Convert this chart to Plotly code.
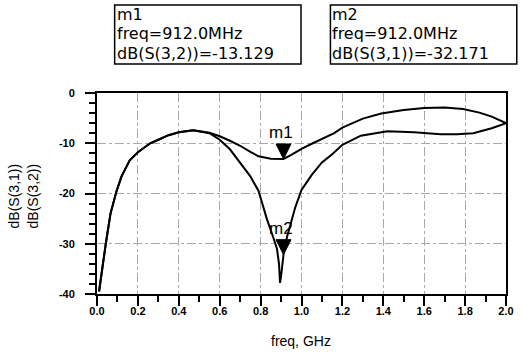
import plotly.graph_objects as go

# ---- data ----
freq_s32 = [0.01, 0.018, 0.03, 0.043, 0.066, 0.095, 0.12, 0.16, 0.2, 0.26, 0.3, 0.35, 0.4, 0.47,
            0.55, 0.6, 0.65, 0.7, 0.75, 0.79, 0.85, 0.912, 0.95, 1.0, 1.05, 1.1, 1.16, 1.2,
            1.3, 1.39, 1.5, 1.6, 1.7, 1.79, 1.87, 1.93, 2.0]
db_s32 = [-39.5, -37, -33, -30, -24, -19.6, -16.6, -13.4, -11.8, -10, -9.3, -8.4, -7.8, -7.4,
          -7.9, -8.6, -9.5, -10.5, -11.7, -12.6, -13.1, -13.129, -12.3, -11.1, -10.1, -9.1, -8.0, -6.9,
          -5.1, -4.1, -3.4, -3.0, -2.9, -3.2, -3.9, -4.7, -6.0]

freq_s31 = [0.01, 0.018, 0.03, 0.043, 0.066, 0.095, 0.12, 0.16, 0.2, 0.26, 0.3, 0.35, 0.4, 0.47,
            0.55, 0.6, 0.65, 0.7, 0.75, 0.79, 0.83, 0.86, 0.88, 0.89, 0.895, 0.9, 0.912, 0.93,
            0.95, 0.97, 1.0, 1.05, 1.1, 1.15, 1.2, 1.29, 1.42, 1.55, 1.68, 1.76, 1.84, 1.93, 2.0]
db_s31 = [-39.5, -37, -33, -30, -24, -19.6, -16.6, -13.4, -11.8, -10, -9.3, -8.4, -7.8, -7.4,
          -8.0, -9.3, -11.2, -13.8, -16.6, -19.5, -25, -28.5, -31, -34, -37.8, -36.5, -32.171, -28.5,
          -25.5, -22.7, -19.3, -16.3, -13.8, -12.2, -10.3, -8.5, -7.6, -7.8, -8.2, -8.2, -8.0, -7.0, -6.0]

marker_names = ["m1", "m2"]
marker_freq = [0.912, 0.912]          # GHz
marker_vals = [-13.129, -32.171]     # dB
marker_exprs = ["dB(S(3,2))", "dB(S(3,1))"]

x_ticks = [0.0, 0.2, 0.4, 0.6, 0.8, 1.0, 1.2, 1.4, 1.6, 1.8, 2.0]
y_ticks = [0, -10, -20, -30, -40]

# ---- layout geometry (pixels) ----
W, H = 525, 352
L, R, T, B = 97, 514, 93, 294


def px(p):
    return (p - L) / (R - L)


def py(p):
    return (B - p) / (B - T)


fig = go.Figure()
fig.add_trace(go.Scatter(x=freq_s31, y=db_s31, mode="lines",
                         line=dict(color="black", width=2), name="dB(S(3,1))"))
fig.add_trace(go.Scatter(x=freq_s32, y=db_s32, mode="lines",
                         line=dict(color="black", width=2), name="dB(S(3,2))"))

shapes = []
annotations = []
box_lefts = [115, 335]
box_rights = [305, 525]
for i, name in enumerate(marker_names):
    # triangle marker, tip on the curve
    shapes.append(dict(type="path", xref="x", yref="y", xsizemode="pixel", ysizemode="pixel",
                       xanchor=marker_freq[i], yanchor=marker_vals[i],
                       path="M -7.5 15 L 7.5 15 L 0 0 Z",
                       fillcolor="black", line=dict(color="black", width=1)))
    annotations.append(dict(x=marker_freq[i], y=marker_vals[i], xref="x", yref="y",
                            text=name, showarrow=False, yanchor="bottom", yshift=15, xshift=-3,
                            font=dict(family="Liberation Sans", size=17, color="black")))
    # readout box
    shapes.append(dict(type="rect", xref="paper", yref="paper",
                       x0=px(box_lefts[i]), x1=px(box_rights[i]), y0=py(64), y1=py(5),
                       line=dict(color="black", width=1.5), fillcolor="white", layer="above"))
    lines = [name,
             f"freq={marker_freq[i] * 1000:.1f}MHz",
             f"{marker_exprs[i]}={marker_vals[i]:.3f}"]
    for j, (txt, yc) in enumerate(zip(lines, [14.5, 34, 53])):
        annotations.append(dict(x=px(box_lefts[i] + 1), y=py(yc), xref="paper", yref="paper",
                                text=txt, showarrow=False, xanchor="left", yanchor="middle",
                                borderpad=0,
                                font=dict(family="DejaVu Sans", size=16, color="black")))

annotations.append(dict(x=px(305), y=py(341), xref="paper", yref="paper", text="freq, GHz",
                        showarrow=False, xanchor="center", yanchor="middle",
                        font=dict(family="Liberation Sans", size=14, color="black")))
annotations.append(dict(x=px(22), y=py(196), xref="paper", yref="paper",
                        text="dB(S(3,1))<br>dB(S(3,2))", textangle=-90,
                        showarrow=False, xanchor="center", yanchor="middle",
                        font=dict(family="Liberation Sans", size=14, color="black")))

axis_common = dict(showline=True, linecolor="black", linewidth=2, mirror=True,
                   ticks="outside", ticklen=10, tickwidth=2, tickcolor="black",
                   showgrid=True, gridcolor="#a8a8a8", gridwidth=1, griddash="dashdot",
                   zeroline=False,
                   tickfont=dict(family="Liberation Sans", size=11, color="black", weight="bold"))

fig.update_layout(
    width=W, height=H,
    margin=dict(l=L, r=W - R, t=T, b=H - B),
    paper_bgcolor="white", plot_bgcolor="white",
    showlegend=False,
    shapes=shapes, annotations=annotations,
    xaxis=dict(range=[0, 2], tickvals=x_ticks, ticktext=[f"{v:.1f}" for v in x_ticks],
               ticklabelstandoff=-4,
               minor=dict(dtick=0.1, ticks="outside", ticklen=6, tickwidth=2, tickcolor="black",
                          showgrid=False),
               **axis_common),
    yaxis=dict(range=[-40, 0], tickvals=y_ticks, ticktext=[str(v) for v in y_ticks],
               ticklabelstandoff=8,
               minor=dict(dtick=2, ticks="outside", ticklen=6, tickwidth=2, tickcolor="black",
                          showgrid=False),
               **axis_common),
)

fig.write_html("out.html", config={"displayModeBar": False},
               post_script="document.body.style.margin='0';")
